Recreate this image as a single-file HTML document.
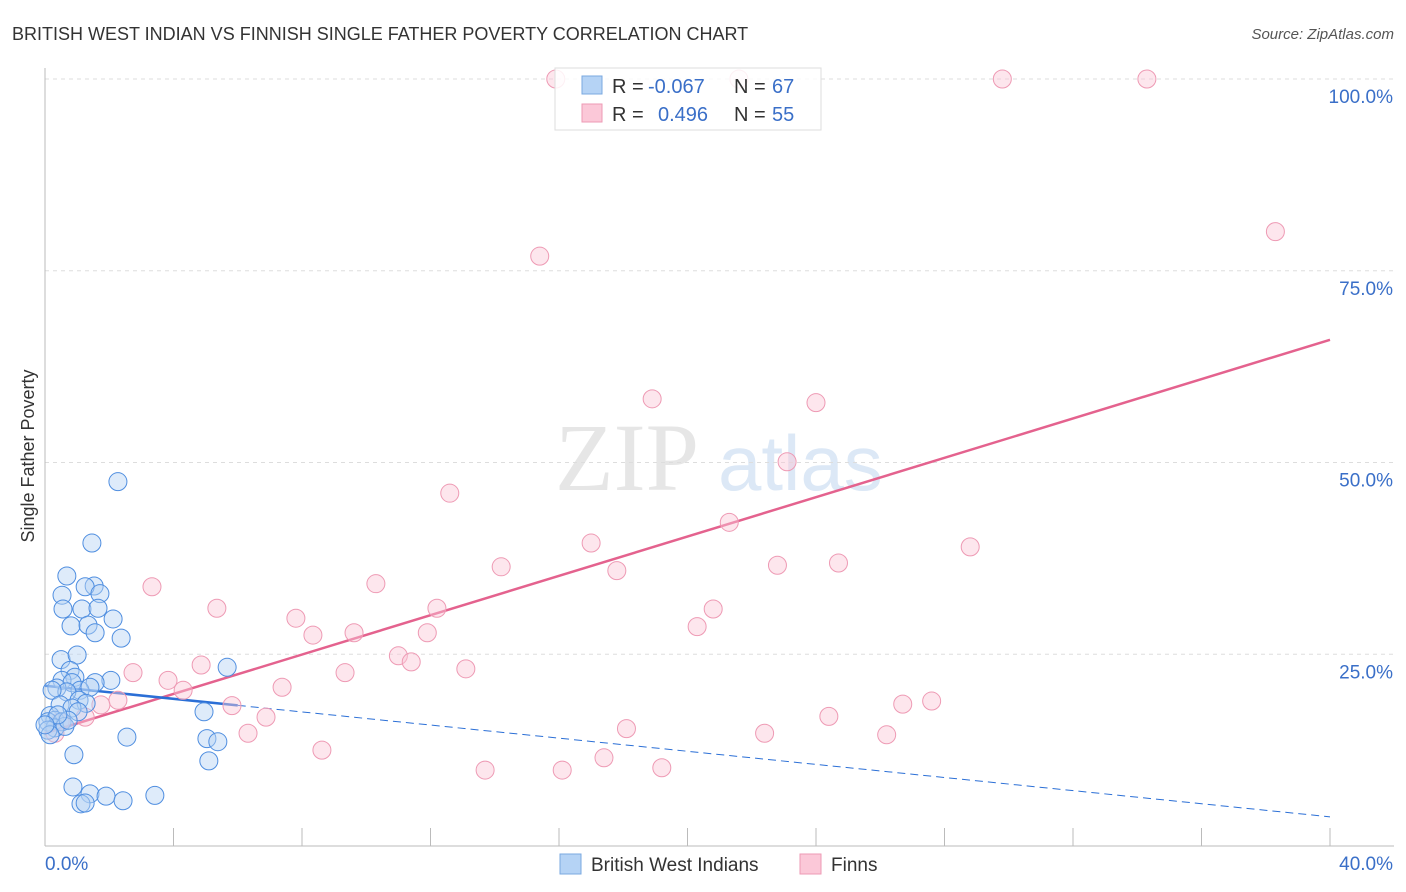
<!DOCTYPE html>
<html><head><meta charset="utf-8"><style>
body{margin:0;background:#fff;font-family:"Liberation Sans",sans-serif;}
#c{position:relative;width:1406px;height:892px;overflow:hidden;}
</style></head><body>
<div id="c">
<svg id="s" width="1406" height="892" xmlns="http://www.w3.org/2000/svg">
<text x="12" y="40" font-size="18" fill="#333">BRITISH WEST INDIAN VS FINNISH SINGLE FATHER POVERTY CORRELATION CHART</text>
<text x="1394" y="39" font-size="15" fill="#555" font-style="italic" text-anchor="end">Source: ZipAtlas.com</text>
<text x="34" y="456" font-size="18" fill="#333" text-anchor="middle" transform="rotate(-90 34 456)">Single Father Poverty</text>
<g>
<text x="555" y="490" font-size="96" fill="#e6e6e6" font-family="Liberation Serif,serif">ZIP</text>
<text x="718" y="490" font-size="78" fill="#dce8f6">atlas</text>
</g>
<g id="grid"></g><g id="axes"></g><g id="trend"></g><g id="pts"></g>
<g>
<rect x="555" y="68" width="266" height="62" fill="#fff" fill-opacity="0.85" stroke="#ddd"/>
<rect x="582" y="76" width="20" height="18" fill="#b5d3f5" stroke="#7aa8e0"/>
<rect x="582" y="104" width="20" height="18" fill="#fbc8d8" stroke="#ee9ab4"/>
<text x="612" y="93" font-size="20" fill="#333">R = </text><text x="648" y="93" font-size="20" fill="#3a6fc8">-0.067</text>
<text x="734" y="93" font-size="20" fill="#333">N = </text><text x="772" y="93" font-size="20" fill="#3a6fc8">67</text>
<text x="612" y="121" font-size="20" fill="#333">R = </text><text x="658" y="121" font-size="20" fill="#3a6fc8">0.496</text>
<text x="734" y="121" font-size="20" fill="#333">N = </text><text x="772" y="121" font-size="20" fill="#3a6fc8">55</text>
</g>
<g>
<rect x="560" y="854" width="21" height="20" fill="#b5d3f5" stroke="#7aa8e0"/>
<text x="591" y="871" font-size="19" fill="#333">British West Indians</text>
<rect x="800" y="854" width="21" height="20" fill="#fbc8d8" stroke="#ee9ab4"/>
<text x="831" y="871" font-size="19" fill="#333">Finns</text>
</g>
</svg>
</div>
<script>
const blueX=[2.27,1.46,0.68,1.53,1.25,1.71,0.53,0.56,1.15,1.65,2.12,0.81,1.34,1.56,2.37,0.50,1.00,5.67,0.78,0.93,0.53,2.05,1.56,0.84,0.37,1.09,1.40,0.68,0.22,1.06,1.28,0.47,0.84,1.03,4.95,0.16,0.31,0.09,0.53,0.31,0.09,0.62,0.72,0.16,2.55,5.04,5.38,0.90,5.10,0.87,1.40,1.90,3.42,2.43,1.12,1.25,0.40,0.00];
const blueY=[47.5,39.5,35.2,33.9,33.8,32.9,32.7,30.9,30.9,31.0,29.6,28.7,28.8,27.8,27.1,24.3,24.9,23.3,22.9,22.0,21.6,21.6,21.3,21.3,20.6,20.3,20.7,20.1,20.3,19.0,18.6,18.4,18.0,17.5,17.5,17.0,16.4,16.2,16.2,15.4,15.1,15.6,16.4,14.5,14.2,14.0,13.6,11.9,11.1,7.7,6.8,6.5,6.6,5.9,5.5,5.6,17.1,15.8];
const pinkX=[15.9,21.6,29.8,34.3,38.3,15.4,18.9,24.0,23.1,12.6,21.3,17.0,28.8,14.2,22.8,24.7,17.8,10.3,3.33,5.35,12.2,20.8,7.81,20.3,8.34,9.62,11.9,11.0,11.4,4.86,13.1,2.74,9.34,3.83,4.30,7.38,2.27,1.74,5.82,27.6,26.7,6.88,24.4,1.25,18.1,6.32,22.4,26.2,8.62,17.4,13.7,16.1,19.2,0.47,0.31];
const pinkY=[100,100,100,100,80.1,76.9,58.3,57.8,50.1,46.0,42.2,39.5,39.0,36.4,36.6,36.9,35.9,34.2,33.8,31.0,31.0,30.9,29.7,28.6,27.5,27.8,27.8,24.8,24.0,23.6,23.1,22.6,22.6,21.6,20.3,20.7,19.0,18.4,18.3,18.9,18.5,16.8,16.9,16.8,15.3,14.7,14.7,14.5,12.5,11.5,9.9,9.9,10.2,16.2,14.7];
const yTicks=[25,50,75,100];
const yTickLabels=["25.0%","50.0%","75.0%","100.0%"];
const xTicks=[0,4,8,12,16,20,24,28,32,36,40];
const pinkTrend=[14.7,66.0];
const blueTrend=[20.9,3.8];
const blueSolidEnd=6;
const X=v=>45+v/40*1285, Y=v=>846-v/100*767;
const NS="http://www.w3.org/2000/svg";
function mk(p,tag,a){const e=document.createElementNS(NS,tag);for(const k in a)e.setAttribute(k,a[k]);document.getElementById(p).appendChild(e);return e;}
yTicks.forEach((t,i)=>{
 const g=mk('grid','line',{x1:45,x2:1394,y1:Y(t),y2:Y(t),stroke:'#ddd','stroke-dasharray':'4,4'});
 
 
 const l=mk('axes','text',{x:1393,y:Y(t)+24,'font-size':19,fill:'#3a6fc8','text-anchor':'end'});
 l.textContent=yTickLabels[i];
 
 
});
const ax=mk('axes','line',{x1:45,x2:45,y1:68,y2:846,stroke:'#bbb'});


const bx=mk('axes','line',{x1:45,x2:1394,y1:846,y2:846,stroke:'#bbb'});


xTicks.forEach(t=>{const k=mk('axes','line',{x1:X(t),x2:X(t),y1:828,y2:846,stroke:'#bbb'});
 
 });
const xl=mk('axes','text',{x:45,y:870,'font-size':19,fill:'#3a6fc8'});xl.textContent='0.0%';


const xr=mk('axes','text',{x:1393,y:870,'font-size':19,fill:'#3a6fc8','text-anchor':'end'});xr.textContent='40.0%';


function dot(x,y,f,s,n){const c=mk('pts','circle',{cx:X(x),cy:Y(y),r:9,fill:f,'fill-opacity':0.45,stroke:s,'stroke-width':1});
 
 }
pinkX.forEach((x,i)=>dot(x,pinkY[i],'#fbc8d8','#ee9ab4','finns-point'));
blueX.forEach((x,i)=>dot(x,blueY[i],'#b5d3f5','#4f8ee0','bwi-point'));
const bAt=x=>blueTrend[0]+(blueTrend[1]-blueTrend[0])*x/40;
const t1=mk('trend','line',{x1:X(0),y1:Y(pinkTrend[0]),x2:X(40),y2:Y(pinkTrend[1]),stroke:'#e4628e','stroke-width':2.5});


const t2=mk('trend','line',{x1:X(0),y1:Y(bAt(0)),x2:X(blueSolidEnd),y2:Y(bAt(blueSolidEnd)),stroke:'#2b6fd6','stroke-width':2.5});


const t3=mk('trend','line',{x1:X(blueSolidEnd),y1:Y(bAt(blueSolidEnd)),x2:X(40),y2:Y(bAt(40)),stroke:'#2b6fd6','stroke-width':1,'stroke-dasharray':'8,5'});


</script>
</body></html>
